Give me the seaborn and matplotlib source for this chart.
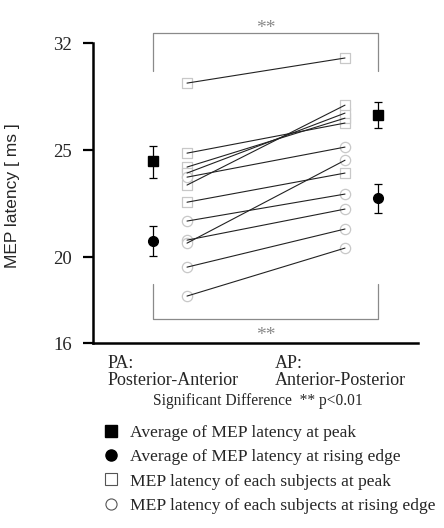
import matplotlib
matplotlib.use("Agg")
import matplotlib.pyplot as plt
from matplotlib.lines import Line2D
import numpy as np
import pandas as pd
import seaborn as sns

# latency of each subject (ms), PA -> AP
peak_pa = [29.38, 24.86, 24.21, 23.93, 23.37, 22.57]
peak_ap = [31.02, 26.77, 27.09, 27.42, 27.94, 23.93]
rise_pa = [23.74, 21.69, 20.80, 20.66, 19.54, 18.19]
rise_ap = [25.20, 22.95, 22.25, 24.53, 21.32, 20.43]

# averages and error bars
avg_peak = [24.5, 27.3]
err_peak = [0.8, 0.85]
avg_rise = [20.75, 22.75]
err_rise = [0.7, 0.68]

y_ticks = [16, 20, 25, 32]
legend_labels = ["Average of MEP latency at peak",
                 "Average of MEP latency at rising edge",
                 "MEP latency of each subjects at peak",
                 "MEP latency of each subjects at rising edge"]

# x positions: subjects at 0 / 1, averages just outside
x_subj = [0, 1]
x_avg = [-0.215, 1.21]

rows = []
for i in range(len(peak_pa)):
    rows.append(("p%d" % i, "peak", x_subj[0], peak_pa[i]))
    rows.append(("p%d" % i, "peak", x_subj[1], peak_ap[i]))
for i in range(len(rise_pa)):
    rows.append(("r%d" % i, "rise", x_subj[0], rise_pa[i]))
    rows.append(("r%d" % i, "rise", x_subj[1], rise_ap[i]))
df = pd.DataFrame(rows, columns=["subject", "kind", "x", "latency"])

sns.set_style("ticks")
plt.rcParams["font.family"] = ["Liberation Serif", "DejaVu Serif"]

fig = plt.figure(figsize=(4.44, 5.28), dpi=100)
ax = fig.add_axes([93 / 444, 1 - 343 / 528, 325 / 444, 300 / 528])

# axis above 25 ms is compressed in the original figure
def fwd(y):
    y = np.asarray(y, dtype=float)
    return np.where(y <= 25, y, 25 + (y - 25) * 5 / 7)

def inv(y):
    y = np.asarray(y, dtype=float)
    return np.where(y <= 25, y, 25 + (y - 25) * 7 / 5)

ax.set_yscale("function", functions=(fwd, inv))

gray = "#c8c8c8"
sns.scatterplot(data=df[df.kind == "peak"], x="x", y="latency", marker="s", s=55,
                facecolor="white", edgecolor=gray, linewidth=0.9, ax=ax, zorder=2)
sns.scatterplot(data=df[df.kind == "rise"], x="x", y="latency", marker="o", s=55,
                facecolor="white", edgecolor=gray, linewidth=0.9, ax=ax, zorder=2)
sns.lineplot(data=df, x="x", y="latency", units="subject", estimator=None,
             color="#222222", linewidth=0.8, ax=ax, zorder=3, legend=False)

ax.errorbar(x_avg, avg_peak, yerr=err_peak, fmt="s", color="black", ms=7.5,
            capsize=2.8, elinewidth=0.9, capthick=0.9, zorder=4)
ax.errorbar(x_avg, avg_rise, yerr=err_rise, fmt="o", color="black", ms=7,
            capsize=2.8, elinewidth=0.9, capthick=0.9, zorder=4)

# significance brackets
bc = "#8a8a8a"
ax.plot([x_avg[0], x_avg[0], x_avg[1], x_avg[1]], [30.2, 32.65, 32.65, 30.2],
        color=bc, lw=0.9, clip_on=False)
ax.text(np.mean(x_avg), 32.95, "**", ha="center", va="center", fontsize=14, color=bc)
ax.plot([x_avg[0], x_avg[0], x_avg[1], x_avg[1]], [18.75, 17.12, 17.12, 18.75],
        color=bc, lw=0.9, clip_on=False)
ax.text(np.mean(x_avg), 16.35, "**", ha="center", va="center", fontsize=14, color=bc)

ax.set_xlim(-0.595, 1.462)
ax.set_ylim(16, 32)
ax.set_yticks(y_ticks)
ax.set_yticklabels([str(t) for t in y_ticks], fontsize=13.5)
ax.yaxis.set_minor_locator(matplotlib.ticker.NullLocator())
ax.set_xticks([])
ax.set_xlabel("")
ax.set_ylabel("MEP latency [ ms ]", fontsize=12.5, family=["Liberation Sans"])
ax.yaxis.set_label_coords(-0.225, 0.49)
ax.tick_params(axis="y", length=7, width=1.6, pad=8, color="black")
sns.despine(ax=ax)
for s in ["left", "bottom"]:
    ax.spines[s].set_linewidth(1.8)
    ax.spines[s].set_color("black")

fig.text(108 / 444, 1 - 355 / 528, "PA:\nPosterior-Anterior", fontsize=13,
         va="top", ha="left", linespacing=1.0)
fig.text(275 / 444, 1 - 355 / 528, "AP:\nAnterior-Posterior", fontsize=13,
         va="top", ha="left", linespacing=1.0)
fig.text(153 / 444, 1 - 401 / 528, "Significant Difference  ** p<0.01", fontsize=11.2,
         va="center", ha="left")

handles = [Line2D([], [], ls="none", marker="s", ms=8, mfc="black", mec="black"),
           Line2D([], [], ls="none", marker="o", ms=8, mfc="black", mec="black"),
           Line2D([], [], ls="none", marker="s", ms=8, mfc="white", mec="#555555", mew=0.8),
           Line2D([], [], ls="none", marker="o", ms=8, mfc="white", mec="#555555", mew=0.8)]
fig.legend(handles, legend_labels, loc="upper left", bbox_to_anchor=(102 / 444, 1 - 425 / 528),
           frameon=False, fontsize=12.6, handlelength=1.0, handletextpad=0.6,
           labelspacing=0.45, borderaxespad=0, borderpad=0)

fig.savefig("out.png", dpi=100)
